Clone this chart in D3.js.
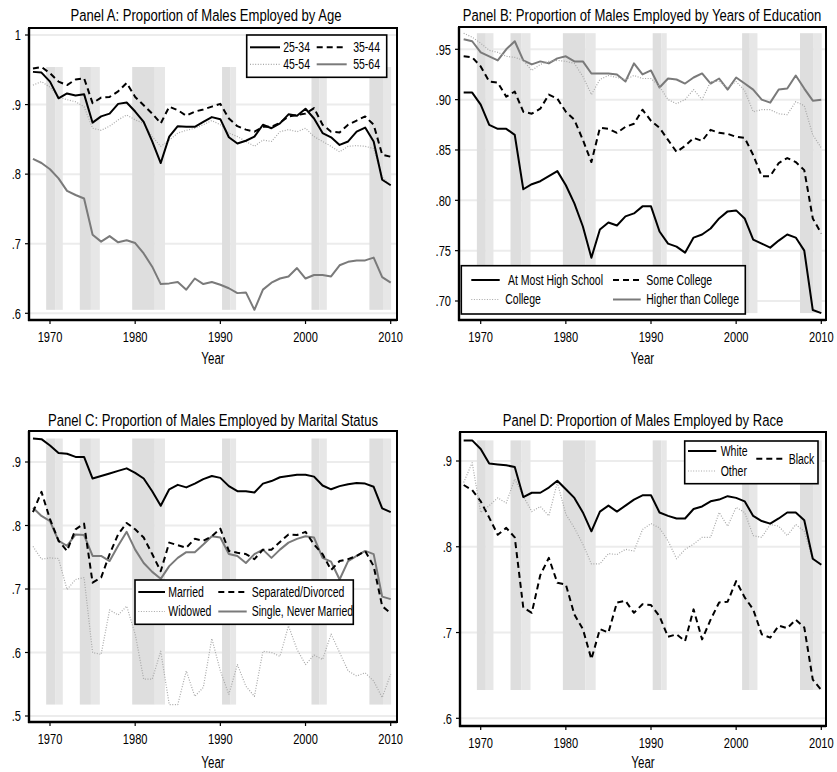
<!DOCTYPE html>
<html><head><meta charset="utf-8">
<script src="https://cdn.jsdelivr.net/npm/d3@7"></script>
<style>
html,body{margin:0;padding:0;background:#fff;}
text{font-family:"Liberation Sans","Arial",sans-serif;fill:#000;}
</style></head><body>
<svg id="chart" width="837" height="772"></svg>
<script>
// ---------------- DATA ----------------
const years = [1968,1969,1970,1971,1972,1973,1974,1975,1976,1977,1978,1979,1980,1981,1982,1983,1984,1985,1986,1987,1988,1989,1990,1991,1992,1993,1994,1995,1996,1997,1998,1999,2000,2001,2002,2003,2004,2005,2006,2007,2008,2009,2010];
const xTicks = [1970,1980,1990,2000,2010];

// Panel A: by age
const age2534 = [.947,.946,.933,.909,.916,.913,.915,.874,.883,.887,.901,.903,.890,.875,.847,.816,.854,.869,.868,.868,.875,.882,.879,.853,.844,.848,.854,.871,.866,.873,.886,.884,.894,.880,.859,.853,.842,.847,.861,.867,.847,.792,.784];
const age3544 = [.952,.954,.945,.933,.928,.936,.938,.902,.910,.911,.919,.931,.911,.899,.887,.873,.897,.892,.884,.890,.893,.897,.901,.880,.869,.864,.861,.868,.868,.874,.883,.885,.887,.895,.871,.861,.860,.871,.877,.883,.871,.828,.825];
const age4554 = [.928,.933,.925,.911,.907,.904,.897,.866,.863,.869,.878,.885,.878,.873,.854,.840,.849,.859,.863,.866,.871,.877,.871,.859,.854,.847,.840,.849,.847,.861,.864,.861,.866,.854,.847,.840,.832,.840,.841,.840,.837,.796,.784];
const age5564 = [.822,.816,.807,.794,.776,.770,.765,.713,.703,.711,.702,.705,.701,.686,.667,.642,.643,.645,.634,.650,.642,.645,.641,.636,.629,.630,.605,.634,.644,.650,.653,.665,.650,.655,.655,.653,.669,.674,.676,.676,.680,.652,.644];
const yTicksA = [.6,.7,.8,.9,1];
const yLabelsA = [".6",".7",".8",".9","1"];

// Panel B: by education
const eduHS = [.907,.907,.895,.875,.871,.871,.865,.811,.816,.819,.824,.829,.815,.797,.774,.743,.771,.778,.775,.784,.787,.794,.794,.769,.757,.754,.748,.763,.766,.772,.782,.789,.790,.782,.761,.757,.753,.760,.766,.763,.750,.691,.688];
const eduSome = [.943,.942,.933,.918,.917,.903,.908,.888,.886,.891,.905,.901,.888,.880,.860,.838,.872,.871,.867,.873,.876,.890,.879,.872,.860,.848,.854,.862,.859,.870,.867,.866,.863,.862,.845,.824,.824,.837,.842,.838,.830,.782,.767];
const eduCollege = [.966,.962,.956,.949,.947,.943,.942,.939,.929,.935,.938,.939,.938,.936,.923,.905,.920,.924,.922,.920,.924,.921,.921,.913,.900,.896,.900,.910,.900,.918,.918,.912,.918,.909,.888,.890,.890,.886,.885,.898,.894,.865,.852];
const eduHigher = [.960,.958,.947,.943,.939,.950,.958,.939,.935,.938,.936,.941,.943,.938,.938,.926,.926,.926,.925,.918,.936,.925,.929,.912,.921,.920,.916,.922,.926,.916,.921,.910,.922,.916,.910,.900,.897,.910,.911,.924,.911,.899,.900];
const yTicksB = [.70,.75,.80,.85,.90,.95];
const yLabelsB = [".70",".75",".80",".85",".90",".95"];

// Panel C: by marital status
const marMarried = [.937,.936,.926,.914,.913,.908,.908,.874,.878,.882,.886,.890,.883,.874,.854,.831,.857,.864,.860,.866,.873,.878,.875,.862,.854,.854,.852,.866,.870,.876,.878,.880,.880,.877,.863,.857,.862,.865,.867,.866,.861,.827,.821];
const marSepDiv = [.821,.853,.810,.776,.760,.794,.803,.710,.718,.755,.786,.804,.794,.781,.755,.728,.773,.769,.765,.779,.776,.783,.795,.760,.757,.755,.747,.762,.762,.774,.786,.785,.790,.770,.755,.730,.744,.747,.752,.760,.736,.673,.662];
const marWidowed = [.767,.747,.749,.748,.699,.715,.718,.600,.597,.667,.659,.673,.629,.558,.558,.602,.518,.518,.571,.531,.545,.622,.571,.534,.581,.547,.531,.602,.600,.594,.642,.605,.581,.596,.589,.629,.600,.571,.563,.568,.555,.529,.566];
const marSingle = [.828,.815,.807,.776,.768,.786,.785,.752,.752,.744,.768,.790,.762,.741,.727,.716,.736,.749,.758,.758,.770,.783,.781,.755,.752,.741,.755,.762,.749,.762,.773,.779,.783,.781,.749,.743,.715,.744,.752,.760,.755,.688,.684];
const yTicksC = [.5,.6,.7,.8,.9];
const yLabelsC = [".5",".6",".7",".8",".9"];

// Panel D: by race
const raceWhite = [.924,.924,.914,.897,.896,.895,.893,.858,.863,.863,.869,.877,.867,.857,.840,.818,.841,.848,.841,.848,.855,.860,.860,.840,.836,.833,.833,.844,.847,.853,.855,.859,.857,.853,.836,.830,.827,.833,.840,.840,.831,.786,.779];
const raceOther = [.875,.898,.840,.848,.857,.851,.879,.859,.841,.847,.836,.875,.838,.822,.803,.780,.780,.792,.791,.797,.795,.820,.827,.822,.807,.786,.797,.803,.811,.811,.840,.824,.846,.840,.813,.811,.826,.824,.813,.826,.818,.785,.780];
const raceBlack = [.872,.866,.853,.834,.814,.822,.811,.729,.723,.767,.787,.758,.756,.721,.704,.669,.704,.700,.735,.737,.723,.733,.732,.719,.695,.698,.690,.727,.692,.715,.735,.736,.760,.741,.727,.698,.694,.708,.705,.715,.706,.645,.633];
const yTicksD = [.6,.7,.8,.9];
const yLabelsD = [".6",".7",".8",".9"];

// Recession shading (years): darker and lighter parts
const recessionDark = [[1969.55,1970.6],[1973.5,1974.8],[1979.65,1982.3],[1990.2,1991.2],[2000.7,2001.6],[2007.5,2009.1]];
const recessionLight = [[1970.6,1971.5],[1974.8,1975.85],[1982.3,1983.5],[1991.2,1991.85],[2001.6,2002.5],[2009.1,2010.05]];

// ---------------- STYLES ----------------
const styles = {
  solidBlack:{stroke:"#000",width:2,dash:null},
  dashBlack:{stroke:"#000",width:2,dash:"6,4"},
  dotGray:{stroke:"#a8a8a8",width:1.2,dash:"1,1.6"},
  solidGray:{stroke:"#7a7a7a",width:2,dash:null}
};

// ---------------- LAYOUT ----------------
const panels = [
  {title:"Panel A: Proportion of Males Employed by Age", titleX:206, titleY:15,
   frame:{x0:29,x1:397,y0:28,y1:320}, xPix:[50,390.7],
   yTicks:yTicksA, yLabels:yLabelsA, yPix:[313.3,35], yearY:358,
   series:[{name:"25-34",v:age2534,s:"solidBlack"},{name:"35-44",v:age3544,s:"dashBlack"},
           {name:"45-54",v:age4554,s:"dotGray"},{name:"55-64",v:age5564,s:"solidGray"}],
   legend:{x0:246.7,x1:386.7,y0:35,y1:77.3,
     items:[{i:0,lx:[250,280],tx:310,anchor:"end",y:47.3},{i:1,lx:[316.7,346.7],tx:380,anchor:"end",y:47.3},
            {i:2,lx:[250,280],tx:310,anchor:"end",y:64.3},{i:3,lx:[316.7,346.7],tx:380,anchor:"end",y:64.3}]}},
  {title:"Panel B: Proportion of Males Employed by Years of Education", titleX:642, titleY:15,
   frame:{x0:459,x1:826,y0:27,y1:320}, xPix:[480.7,821.3],
   yTicks:yTicksB, yLabels:yLabelsB, yPix:[301,49.3], yearY:358,
   series:[{name:"At Most High School",v:eduHS,s:"solidBlack"},{name:"Some College",v:eduSome,s:"dashBlack"},
           {name:"College",v:eduCollege,s:"dotGray"},{name:"Higher than College",v:eduHigher,s:"solidGray"}],
   legend:{x0:461.3,x1:745.3,y0:265.7,y1:314,
     items:[{i:0,lx:[471.3,499.7],tx:508,anchor:"start",y:280},{i:1,lx:[613,640.7],tx:646.3,anchor:"start",y:280},
            {i:2,lx:[471.3,499.7],tx:505.3,anchor:"start",y:299.5},{i:3,lx:[613,640.7],tx:646.3,anchor:"start",y:299.5}]}},
  {title:"Panel C: Proportion of Males Employed by Marital Status", titleX:213, titleY:420,
   frame:{x0:29,x1:397,y0:431,y1:722}, xPix:[50,390.7],
   yTicks:yTicksC, yLabels:yLabelsC, yPix:[716,462], yearY:762,
   series:[{name:"Married",v:marMarried,s:"solidBlack"},{name:"Separated/Divorced",v:marSepDiv,s:"dashBlack"},
           {name:"Widowed",v:marWidowed,s:"dotGray"},{name:"Single, Never Married",v:marSingle,s:"solidGray"}],
   legend:{x0:135,x1:353.3,y0:580,y1:624.3,
     items:[{i:0,lx:[138.3,165],tx:168.3,anchor:"start",y:592},{i:1,lx:[218.3,246.7],tx:251.7,anchor:"start",y:592},
            {i:2,lx:[138.3,165],tx:168.3,anchor:"start",y:611.5},{i:3,lx:[218.3,246.7],tx:251.7,anchor:"start",y:611.5}]}},
  {title:"Panel D: Proportion of Males Employed by Race", titleX:643, titleY:420,
   frame:{x0:460,x1:826,y0:432,y1:726}, xPix:[480.7,821.3],
   yTicks:yTicksD, yLabels:yLabelsD, yPix:[718.3,461], yearY:762,
   series:[{name:"White",v:raceWhite,s:"solidBlack"},{name:"Other",v:raceOther,s:"dotGray"},
           {name:"Black",v:raceBlack,s:"dashBlack"}],
   legend:{x0:684.7,x1:818,y0:441,y1:483.7,
     items:[{i:0,lx:[688,716.3],tx:720.7,anchor:"start",y:451},{i:1,lx:[688,716.3],tx:720.7,anchor:"start",y:471},
            {i:2,lx:[756.3,785],tx:788.7,anchor:"start",y:458.7}]}}
];

// ---------------- DRAW ----------------
const svg = d3.select("#chart");
svg.append("rect").attr("width",837).attr("height",772).attr("fill","#fff");

function applyStyle(sel, st){
  sel.attr("stroke",st.stroke).attr("stroke-width",st.width).attr("fill","none")
     .attr("stroke-linejoin","round");
  if(st.dash) sel.attr("stroke-dasharray",st.dash);
  return sel;
}
// horizontally condensed text (no narrow font installed): scale a group
function ctext(parent, x, y, str, size, k, anchor){
  const g = parent.append("g").attr("transform",`translate(${x},${y}) scale(${k},1)`);
  return g.append("text").attr("x",0).attr("y",0).attr("dy","0.35em")
    .attr("text-anchor",anchor).attr("font-size",size).text(str);
}

panels.forEach(p=>{
  const g = svg.append("g");
  const f = p.frame;
  const x = d3.scaleLinear().domain([xTicks[0], xTicks[xTicks.length-1]]).range(p.xPix);
  const y = d3.scaleLinear().domain([p.yTicks[0], p.yTicks[p.yTicks.length-1]]).range(p.yPix);

  g.append("rect").attr("x",f.x0).attr("y",f.y0).attr("width",f.x1-f.x0).attr("height",f.y1-f.y0).attr("fill","#fff");

  // gridlines
  g.selectAll(".grid").data(p.yTicks).enter().append("line")
    .attr("x1",f.x0).attr("x2",f.x1).attr("y1",d=>y(d)).attr("y2",d=>y(d))
    .attr("stroke","#ececec").attr("stroke-width",2);

  // recession bands spanning data extent
  const allVals = p.series.flatMap(s=>s.v);
  const [vmin,vmax] = d3.extent(allVals);
  const drawBands = (arr,color)=>{
    g.append("g").selectAll("rect").data(arr).enter().append("rect")
      .attr("x",d=>x(d[0])).attr("width",d=>Math.max(0,Math.min(x(d[1]),f.x1-1)-x(d[0])))
      .attr("y",y(vmax)).attr("height",y(vmin)-y(vmax))
      .attr("fill",color);
  };
  drawBands(recessionDark,"#dedede");
  drawBands(recessionLight,"#e7e7e7");

  const line = d3.line().x((d,i)=>x(years[i])).y(d=>y(d));
  p.series.slice().reverse().forEach(s=>{
    applyStyle(g.append("path").datum(s.v).attr("d",line), styles[s.s]);
  });

  // frame
  g.append("rect").attr("x",f.x0).attr("y",f.y0).attr("width",f.x1-f.x0).attr("height",f.y1-f.y0)
    .attr("fill","none").attr("stroke","#000").attr("stroke-width",2);
  g.append("line").attr("x1",f.x0).attr("x2",f.x0).attr("y1",f.y0).attr("y2",f.y1+1).attr("stroke","#000").attr("stroke-width",2.4);
  g.append("line").attr("x1",f.x0-1).attr("x2",f.x1).attr("y1",f.y1).attr("y2",f.y1).attr("stroke","#000").attr("stroke-width",2.4);

  // y axis
  p.yTicks.forEach((t,i)=>{
    g.append("line").attr("x1",f.x0-4).attr("x2",f.x0).attr("y1",y(t)).attr("y2",y(t)).attr("stroke","#000").attr("stroke-width",1.2);
    ctext(g, f.x0-8, y(t), p.yLabels[i], 15, 0.74, "end");
  });
  // x axis
  xTicks.forEach(t=>{
    g.append("line").attr("x1",x(t)).attr("x2",x(t)).attr("y1",f.y1).attr("y2",f.y1+4).attr("stroke","#000").attr("stroke-width",1.2);
    ctext(g, x(t), f.y1+16.5, t, 15, 0.74, "middle");
  });
  ctext(g, (f.x0+f.x1)/2, p.yearY, "Year", 17, 0.68, "middle");
  ctext(g, p.titleX, p.titleY, p.title, 17, 0.77, "middle");

  // legend
  const L = p.legend;
  g.append("rect").attr("x",L.x0).attr("y",L.y0).attr("width",L.x1-L.x0).attr("height",L.y1-L.y0)
    .attr("fill","#fff").attr("stroke","#000").attr("stroke-width",1.6);
  L.items.forEach(it=>{
    const s = p.series[it.i];
    applyStyle(g.append("line").attr("x1",it.lx[0]).attr("x2",it.lx[1]).attr("y1",it.y).attr("y2",it.y), styles[s.s]);
    ctext(g, it.tx, it.y, s.name, 14, 0.75, it.anchor);
  });
});
</script>
</body></html>
